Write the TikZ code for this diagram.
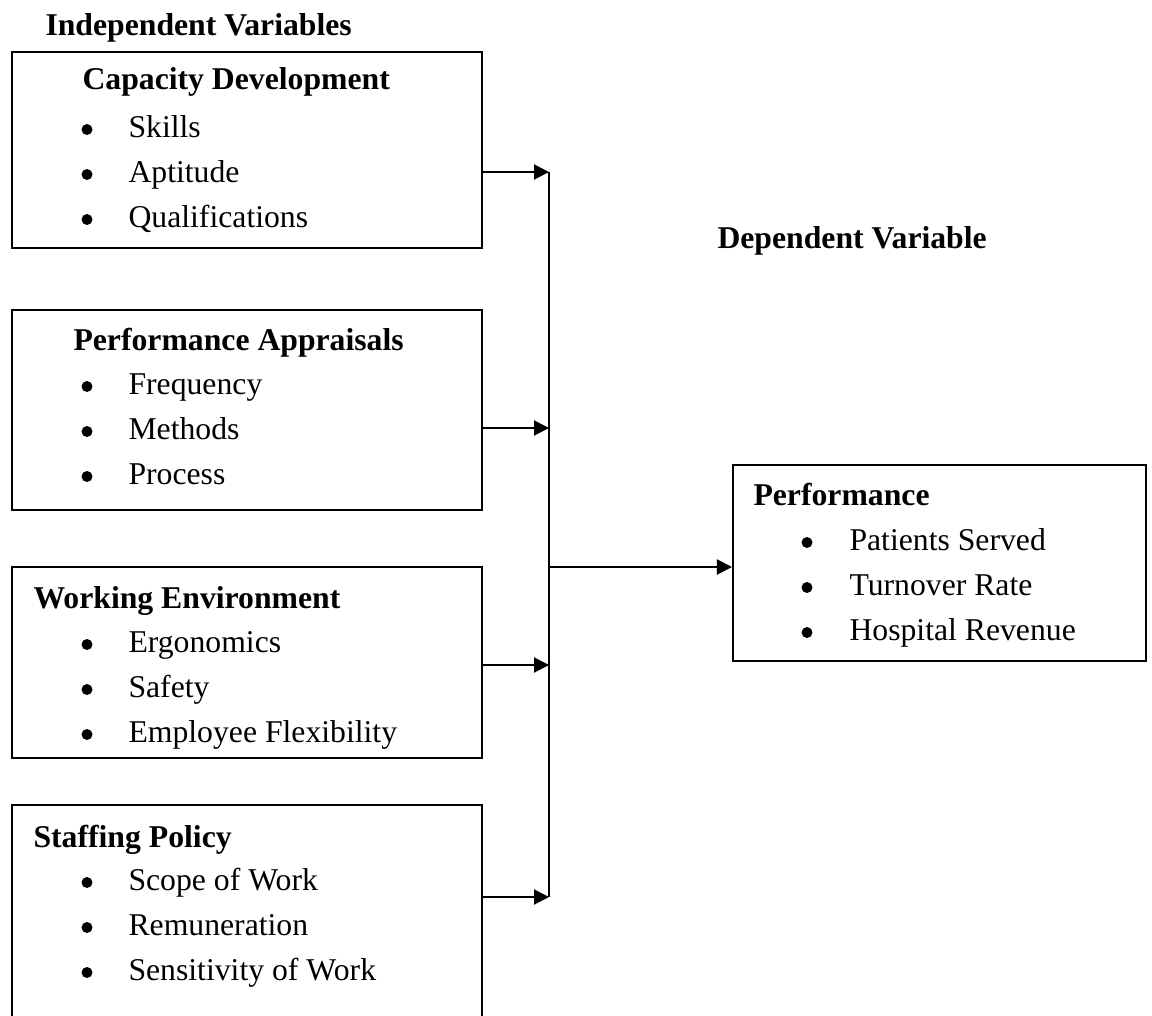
\documentclass[tikz,border=0pt]{standalone}
\usepackage{fontspec}
\setmainfont{Liberation Serif}
\usetikzlibrary{arrows.meta}
\def\pxu{0.3785pt}
\begin{document}
\begin{tikzpicture}[x=0.3785pt,y=-0.3785pt,
  font=\fontsize{12}{14}\selectfont,
  box/.style={draw, line width=0.76pt, inner sep=0pt, minimum width=470*\pxu},
  hd/.style={anchor=base west, font=\fontsize{12}{14}\selectfont\bfseries, inner sep=0pt},
  itm/.style={anchor=base west, inner sep=0pt},
  dot/.style={circle, fill=black, draw=none, inner sep=0pt, minimum size=11*\pxu},
  ln/.style={line width=0.76pt},
  arr/.style={line width=0.76pt, -{Triangle[length=15*\pxu,width=15*\pxu]}}]
\useasboundingbox (0,0) rectangle (1152,1015);
\begin{scope}
\clip (0,0) rectangle (1152,1015);

% headings
\node[hd] (indep) at (45,35) {Independent Variables};
\node[hd] (dep) at (717,248) {Dependent Variable};

% boxes
\node[box, minimum height=196*\pxu] (cd) at (247,150) {};
\node[box, minimum height=200*\pxu] (pa) at (247,410) {};
\node[box, minimum height=191*\pxu] (we) at (247,662.5) {};
\node[box, minimum height=240*\pxu] (sp) at (247,925) {};
\node[box, minimum width=413*\pxu, minimum height=196*\pxu] (perf) at (939.5,563) {};

% Capacity Development
\node[hd] (cdt) at (82,89) {Capacity Development};
\node[dot] (cdd1) at (87,129.5) {}; \node[itm] (cd1) at (128,137) {Skills};
\node[dot] (cdd2) at (87,174.5) {}; \node[itm] (cd2) at (128,182) {Aptitude};
\node[dot] (cdd3) at (87,219.5) {}; \node[itm] (cd3) at (128,227) {Qualifications};

% Performance Appraisals
\node[hd] (pat) at (73,350) {Performance Appraisals};
\node[dot] (pad1) at (87,386.5) {}; \node[itm] (pa1) at (128,394) {Frequency};
\node[dot] (pad2) at (87,431.5) {}; \node[itm] (pa2) at (128,439) {Methods};
\node[dot] (pad3) at (87,476.5) {}; \node[itm] (pa3) at (128,484) {Process};

% Working Environment
\node[hd] (wet) at (33,608) {Working Environment};
\node[dot] (wed1) at (87,644.5) {}; \node[itm] (we1) at (128,652) {Ergonomics};
\node[dot] (wed2) at (87,689.5) {}; \node[itm] (we2) at (128,697) {Safety};
\node[dot] (wed3) at (87,734.5) {}; \node[itm] (we3) at (128,742) {Employee Flexibility};

% Staffing Policy
\node[hd] (spt) at (33,847) {Staffing Policy};
\node[dot] (spd1) at (87,882.5) {}; \node[itm] (sp1) at (128,890) {Scope of Work};
\node[dot] (spd2) at (87,927.5) {}; \node[itm] (sp2) at (128,935) {Remuneration};
\node[dot] (spd3) at (87,972.5) {}; \node[itm] (sp3) at (128,980) {Sensitivity of Work};

% Performance
\node[hd] (pft) at (753,505) {Performance};
\node[dot] (pfd1) at (807,542.5) {}; \node[itm] (pf1) at (849,550) {Patients Served};
\node[dot] (pfd2) at (807,587.5) {}; \node[itm] (pf2) at (849,595) {Turnover Rate};
\node[dot] (pfd3) at (807,632.5) {}; \node[itm] (pf3) at (849,640) {Hospital Revenue};

% bus
\coordinate (b1) at (549,172);
\coordinate (b2) at (549,428);
\coordinate (b3) at (549,665);
\coordinate (b4) at (549,897);
\coordinate (bm) at (550,567);
\draw[ln] (b1) -- (b4);

% connectors
\draw[arr] (cd.east |- b1) -- (b1);
\draw[arr] (pa.east |- b2) -- (b2);
\draw[arr] (we.east |- b3) -- (b3);
\draw[arr] (sp.east |- b4) -- (b4);
\draw[arr] (bm) -- (perf.west |- bm);
\end{scope}
\end{tikzpicture}
\end{document}
